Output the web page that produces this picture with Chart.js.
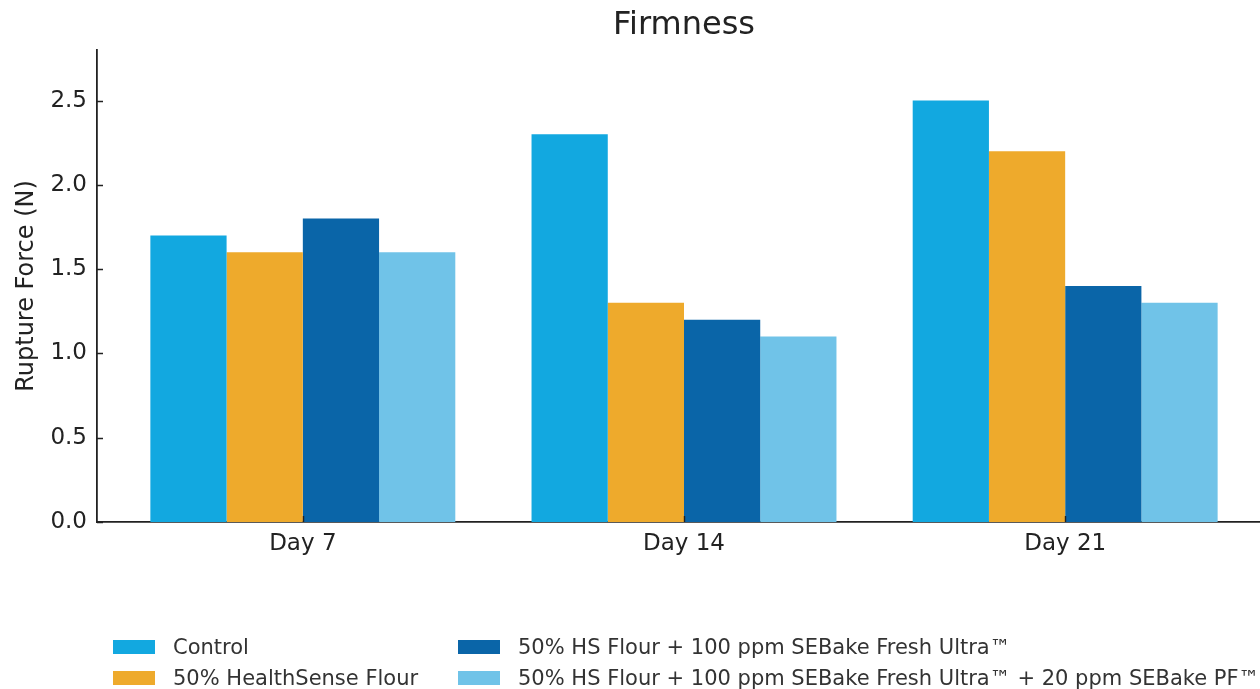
<!DOCTYPE html>
<html>
<head>
<meta charset="utf-8">
<script src="https://cdn.jsdelivr.net/npm/chart.js@4/dist/chart.umd.min.js"></script>
<style>
  html, body { margin: 0; padding: 0; background: #fff; overflow: hidden; }
  #wrap { position: relative; width: 1260px; height: 689px; overflow: hidden; }
  #chart { position: absolute; left: 0; top: 0; }
  .leg { position: absolute; height: 28px; display: flex; align-items: center; white-space: nowrap;
         font-family: 'DejaVu Sans', sans-serif; font-size: 21px; color: #333; }
  .leg span.box { display: inline-block; width: 42px; height: 14px; margin-right: 18px; }
</style>
</head>
<body>
<div id="wrap">
  <canvas id="chart" width="1275" height="689"></canvas>
</div>
<script>
// chart data
var days = ['Day 7', 'Day 14', 'Day 21'];
var seriesNames = [
  'Control',
  '50% HealthSense Flour',
  '50% HS Flour + 100 ppm SEBake Fresh Ultra\u2122',
  '50% HS Flour + 100 ppm SEBake Fresh Ultra\u2122 + 20 ppm SEBake PF\u2122'
];
var control = [1.7, 2.3, 2.5];
var healthSense = [1.6, 1.3, 2.2];
var freshUltra = [1.8, 1.2, 1.4];
var freshUltraPF = [1.6, 1.1, 1.3];
var yTicks = [0, 0.5, 1.0, 1.5, 2.0, 2.5];
var colors = ['#12a8e0', '#eeaa2c', '#0a65a8', '#70c3e8'];

var FONT = "'DejaVu Sans', sans-serif";
var INK = '#222';

function toPoints(arr) {
  return arr.map(function(v, i) { return { x: i, y: v }; });
}

var seriesValues = [control, healthSense, freshUltra, freshUltraPF];
var datasets = seriesValues.map(function(vals, i) {
  return {
    label: seriesNames[i],
    data: toPoints(vals),
    backgroundColor: colors[i],
    borderWidth: 0,
    categoryPercentage: 0.8,
    barPercentage: 1.0
  };
});

// title centred over the plot area, plus inward tick marks like the original
var extrasPlugin = {
  id: 'extras',
  afterDraw: function(chart) {
    var ctx = chart.ctx, area = chart.chartArea;
    var xs = chart.scales.x, ys = chart.scales.y;
    ctx.save();
    ctx.strokeStyle = INK;
    ctx.lineWidth = 1.4;
    ctx.beginPath();
    yTicks.forEach(function(t) {
      var py = Math.round(ys.getPixelForValue(t)) + 0.5;
      ctx.moveTo(area.left, py); ctx.lineTo(area.left + 6, py);
    });
    days.forEach(function(d, i) {
      var px = Math.round(xs.getPixelForValue(i)) + 0.5;
      ctx.moveTo(px, area.bottom); ctx.lineTo(px, area.bottom - 6);
    });
    ctx.stroke();
    ctx.fillStyle = INK;
    ctx.font = '32px ' + FONT;
    ctx.textAlign = 'center';
    ctx.textBaseline = 'middle';
    ctx.fillText('Firmness', (area.left + area.right) / 2, 26);
    ctx.restore();
  }
};

new Chart(document.getElementById('chart'), {
  type: 'bar',
  data: { datasets: datasets },
  plugins: [extrasPlugin],
  options: {
    responsive: false,
    animation: false,
    layout: { padding: { left: 8, right: 4, top: 50, bottom: 0 } },
    plugins: {
      legend: { display: false },
      tooltip: { enabled: false }
    },
    scales: {
      x: {
        type: 'linear',
        offset: false,
        min: -0.54,
        max: 2.54,
        afterBuildTicks: function(scale) {
          scale.ticks = days.map(function(d, i) { return { value: i }; });
        },
        afterFit: function(scale) { scale.height = 167; },
        grid: { display: false, drawTicks: false, offset: false },
        border: { display: true, color: INK, width: 1.8 },
        ticks: {
          padding: 8,
          color: INK,
          font: { family: FONT, size: 23 },
          callback: function(v) { return days[v] || ''; }
        }
      },
      y: {
        min: 0,
        max: 2.8,
        afterBuildTicks: function(scale) {
          scale.ticks = yTicks.map(function(v) { return { value: v }; });
        },
        afterFit: function(scale) { scale.width = 89; },
        grid: { display: false, drawTicks: false },
        border: { display: true, color: INK, width: 1.8 },
        title: {
          display: true,
          text: 'Rupture Force (N)',
          color: INK,
          font: { family: FONT, size: 24 },
          padding: { top: 4, bottom: 4 }
        },
        ticks: {
          padding: 10,
          color: INK,
          font: { family: FONT, size: 23 },
          callback: function(v) { return Number(v).toFixed(1); }
        }
      }
    }
  }
});

// legend in two columns under the chart, column-major like the original
var legendCols = [113, 458];
var legendRows = [647, 678];
var wrap = document.getElementById('wrap');
seriesNames.forEach(function(name, i) {
  var col = Math.floor(i / 2), row = i % 2;
  var el = document.createElement('div');
  el.className = 'leg';
  el.style.left = legendCols[col] + 'px';
  el.style.top = (legendRows[row] - 14) + 'px';
  var box = document.createElement('span');
  box.className = 'box';
  box.style.background = colors[i];
  el.appendChild(box);
  el.appendChild(document.createTextNode(name));
  wrap.appendChild(el);
});
</script>
</body>
</html>
